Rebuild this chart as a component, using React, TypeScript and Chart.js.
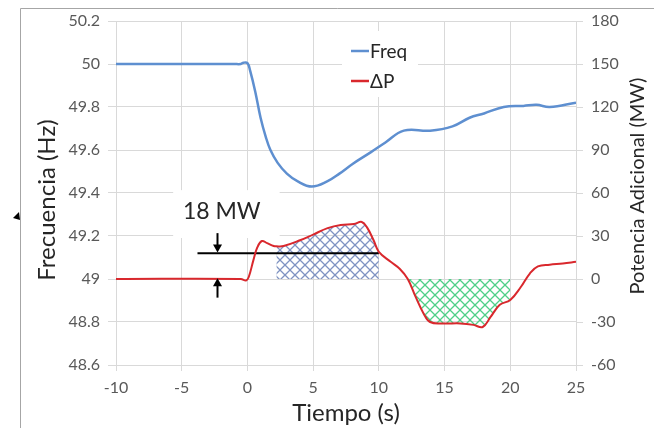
import React, { useEffect, useRef } from "react";
import { Chart, registerables } from "chart.js";

Chart.register(...registerables);

// ---- Data ----
const freqTime = [-10, -1, -0.5, -0.3, 0, 0.2, 0.6, 1.0, 1.4, 1.75, 2.3, 3.0, 3.8, 4.9, 6.1, 7.0, 8.0, 9.4, 10.5, 11.9, 13.9, 15.6, 16.9, 18.0, 19.5, 21.0, 22.0, 23.0, 25];
const freqValues = [50, 50, 50, 50.006, 50.004, 49.97, 49.87, 49.75, 49.66, 49.6, 49.54, 49.49, 49.455, 49.43, 49.455, 49.49, 49.535, 49.59, 49.635, 49.69, 49.69, 49.71, 49.75, 49.77, 49.8, 49.805, 49.81, 49.8, 49.82];

const powerTime = [-10, -0.5, -0.1, 0.1, 0.45, 0.75, 1.1, 1.5, 2.0, 2.2, 2.75, 4.0, 5.0, 6.1, 7.1, 8.1, 8.7, 9.1, 9.6, 10.0, 10.9, 11.6, 12.2, 12.8, 13.4, 13.9, 14.9, 16.2, 17.2, 17.9, 18.5, 19.2, 20.0, 20.8, 21.5, 22.1, 23.0, 24.0, 25];
const powerValues = [0, 0, -1, 1.4, 13, 22, 26.5, 25, 23, 22.8, 23, 27, 31, 35.5, 37.7, 38.4, 39.8, 36, 27, 19, 12, 7, 0, -12.5, -24, -30, -31, -31, -32, -33.5, -26.5, -18, -14.6, -5.6, 4, 8.8, 10, 10.8, 12];

const surplusRange = [2.2, 10];
const deficitRange = [12.2, 20];

const refLevel = 18;
const refLineTime = [-3.8, 10];
const refLabel = "18 MW";
const arrowTime = -2.3;
const arrowTopFrom = 32;
const arrowBottomFrom = -13;

const timeAxis = { min: -10, max: 25, step: 5 };
const freqAxis = { min: 48.6, max: 50.2, step: 0.2 };
const powerAxis = { min: -60, max: 180, step: 30 };

const seriesLabels = ["Freq", "ΔP"];
const axisTitles = { x: "Tiempo (s)", y: "Frecuencia (Hz)", y1: "Potencia Adicional (MW)" };

const FONT = "Lato, 'Open Sans', sans-serif";
const BLUE = "#5e8fd0";
const RED = "#d9282d";
const TENSION = 0.4;

function pts(ts: number[], vs: number[], range?: number[]) {
  const out: { x: number; y: number }[] = [];
  ts.forEach((t, i) => {
    if (!range || (t >= range[0] && t <= range[1])) out.push({ x: t, y: vs[i] });
  });
  return out;
}

function makeHatch(color: string) {
  const c = document.createElement("canvas");
  c.width = 10;
  c.height = 10;
  const g = c.getContext("2d")!;
  g.strokeStyle = color;
  g.lineWidth = 1.3;
  g.beginPath();
  g.moveTo(-2, -2); g.lineTo(12, 12);
  g.moveTo(12, -2); g.lineTo(-2, 12);
  g.stroke();
  return g.createPattern(c, "repeat")!;
}

const decorPlugin = {
  id: "decor",
  beforeDatasetsDraw(chart: any) {
    const { ctx } = chart;
    const x = chart.scales.x;
    const y1 = chart.scales.y1;
    ctx.save();
    // legend box
    ctx.fillStyle = "#ffffff";
    ctx.fillRect(342, 31, 76, 66);
    const ds = chart.data.datasets;
    const legendRows = [ds[0], ds[1]];
    legendRows.forEach((d: any, i: number) => {
      const yy = 51 + i * 30;
      ctx.strokeStyle = d.borderColor;
      ctx.lineWidth = 2.5;
      ctx.beginPath();
      ctx.moveTo(351, yy);
      ctx.lineTo(369, yy);
      ctx.stroke();
      ctx.fillStyle = "#262626";
      ctx.font = `19px ${FONT}`;
      ctx.textAlign = "left";
      ctx.textBaseline = "middle";
      ctx.fillText(d.label, 370, yy + 1);
    });
    // label box for reference level
    const bx0 = x.getPixelForValue(-5.65);
    const bx1 = x.getPixelForValue(2.45);
    const by0 = y1.getPixelForValue(62);
    const by1 = y1.getPixelForValue(28.6);
    ctx.fillStyle = "#ffffff";
    ctx.fillRect(bx0, by0, bx1 - bx0, by1 - by0);
    ctx.fillStyle = "#262626";
    ctx.font = `23px ${FONT}`;
    ctx.textAlign = "center";
    ctx.textBaseline = "middle";
    ctx.fillText(refLabel, x.getPixelForValue(-1.95), y1.getPixelForValue(47));
    ctx.restore();
  },
  afterDatasetsDraw(chart: any) {
    const { ctx } = chart;
    const x = chart.scales.x;
    const y1 = chart.scales.y1;
    const ax = Math.round(x.getPixelForValue(arrowTime)) + 0.5;
    const drawArrow = (from: number, to: number) => {
      const pf = y1.getPixelForValue(from);
      const pt = y1.getPixelForValue(to);
      const dir = pt > pf ? 1 : -1;
      ctx.strokeStyle = "#000";
      ctx.fillStyle = "#000";
      ctx.lineWidth = 2;
      ctx.beginPath();
      ctx.moveTo(ax, pf);
      ctx.lineTo(ax, pt - dir * 6);
      ctx.stroke();
      ctx.beginPath();
      ctx.moveTo(ax, pt);
      ctx.lineTo(ax - 4.5, pt - dir * 8);
      ctx.lineTo(ax + 4.5, pt - dir * 8);
      ctx.closePath();
      ctx.fill();
    };
    ctx.save();
    drawArrow(arrowTopFrom, refLevel + 0.5);
    drawArrow(arrowBottomFrom, 0.5);
    ctx.restore();
  },
  afterDraw(chart: any) {
    const { ctx } = chart;
    const drawVTitle = (text: string, cx: number, cy: number, size: number) => {
      ctx.save();
      ctx.fillStyle = "#262626";
      ctx.font = `${size}px ${FONT}`;
      ctx.textAlign = "center";
      ctx.textBaseline = "middle";
      ctx.translate(cx, cy);
      ctx.rotate(-Math.PI / 2);
      ctx.fillText(text, 0, 0);
      ctx.restore();
    };
    drawVTitle(axisTitles.y, 47, 200, 24);
    drawVTitle(axisTitles.y1, 638, 186, 20);
    // outer frame
    ctx.save();
    ctx.strokeStyle = "#a6a6a6";
    ctx.lineWidth = 1;
    ctx.beginPath();
    ctx.moveTo(20.5, 428);
    ctx.lineTo(20.5, 8.5);
    ctx.lineTo(654, 8.5);
    ctx.stroke();
    ctx.fillStyle = "#000";
    ctx.beginPath();
    ctx.moveTo(13, 218);
    ctx.lineTo(19, 212);
    ctx.lineTo(20, 220);
    ctx.closePath();
    ctx.fill();
    ctx.restore();
  },
};

export default function App() {
  const ref = useRef<HTMLCanvasElement | null>(null);
  useEffect(() => {
    if (!ref.current) return;
    const gridColor = "#d9d9d9";
    const tickFont = { family: FONT, size: 16 };
    const chart = new Chart(ref.current, {
      type: "line",
      data: {
        datasets: [
          {
            label: seriesLabels[0],
            data: pts(freqTime, freqValues),
            yAxisID: "y",
            borderColor: BLUE,
            borderWidth: 2.5,
            pointRadius: 0,
            tension: TENSION,
            fill: false,
            order: 0,
          },
          {
            label: seriesLabels[1],
            data: pts(powerTime, powerValues),
            yAxisID: "y1",
            borderColor: RED,
            borderWidth: 2,
            pointRadius: 0,
            tension: TENSION,
            fill: false,
            order: 1,
          },
          {
            label: "ref",
            data: refLineTime.map((t) => ({ x: t, y: refLevel })),
            yAxisID: "y1",
            borderColor: "#000000",
            borderWidth: 2,
            pointRadius: 0,
            fill: false,
            order: 2,
          },
          {
            label: "surplus",
            data: pts(powerTime, powerValues, surplusRange),
            yAxisID: "y1",
            borderWidth: 0,
            borderColor: "rgba(0,0,0,0)",
            backgroundColor: makeHatch("#7f93c2"),
            pointRadius: 0,
            tension: TENSION,
            fill: "origin",
            order: 3,
          },
          {
            label: "deficit",
            data: pts(powerTime, powerValues, deficitRange),
            yAxisID: "y1",
            borderWidth: 0,
            borderColor: "rgba(0,0,0,0)",
            backgroundColor: makeHatch("#4fcf88"),
            pointRadius: 0,
            tension: TENSION,
            fill: "origin",
            order: 4,
          },
        ],
      },
      options: {
        animation: false,
        responsive: false,
        events: [],
        layout: { padding: { top: 21, right: 0, bottom: 0, left: 0 } },
        plugins: { legend: { display: false }, tooltip: { enabled: false } },
        scales: {
          x: {
            type: "linear",
            min: timeAxis.min,
            max: timeAxis.max,
            ticks: { stepSize: timeAxis.step, color: "#595959", font: tickFont, padding: 7 },
            grid: { color: gridColor, tickLength: 6 },
            border: { color: gridColor },
            title: { display: true, text: axisTitles.x, color: "#262626", font: { family: FONT, size: 24 }, padding: { top: 0, bottom: 0 } },
            afterFit: (s: any) => { s.height = 63; },
          },
          y: {
            type: "linear",
            position: "left",
            min: freqAxis.min,
            max: freqAxis.max,
            ticks: {
              stepSize: freqAxis.step,
              color: "#595959",
              font: tickFont,
              padding: 8,
              callback: (v: any) => String(Number(Number(v).toFixed(1))),
            },
            grid: { color: gridColor, tickLength: 8 },
            border: { color: gridColor },
            afterFit: (s: any) => { s.width = 116; },
          },
          y1: {
            type: "linear",
            position: "right",
            min: powerAxis.min,
            max: powerAxis.max,
            ticks: { stepSize: powerAxis.step, color: "#595959", font: tickFont, padding: 8 },
            grid: { color: gridColor, tickLength: 7, drawOnChartArea: false },
            border: { color: gridColor },
            afterFit: (s: any) => { s.width = 78; },
          },
        },
      },
      plugins: [decorPlugin],
    } as any);
    return () => chart.destroy();
  }, []);
  return (
    <div style={{ position: "absolute", left: 0, top: 0, width: 654, height: 428, background: "#fff" }}>
      <canvas ref={ref} width={654} height={428} />
    </div>
  );
}
